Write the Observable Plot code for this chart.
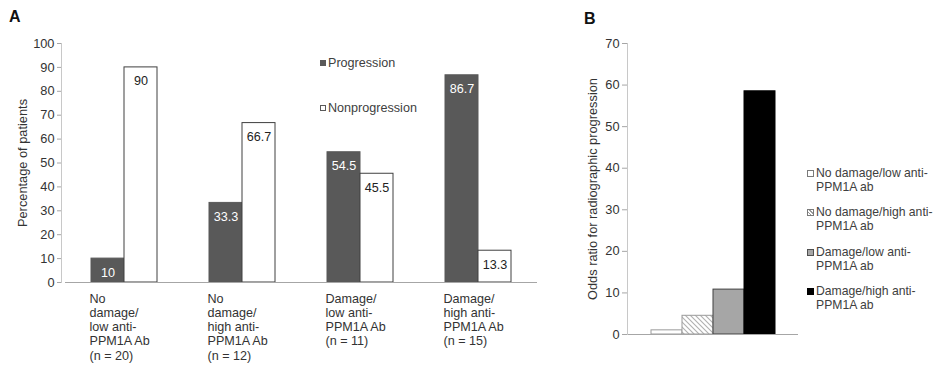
<!DOCTYPE html>
<html>
<head>
<meta charset="utf-8">
<script src="https://cdn.jsdelivr.net/npm/d3@7"></script>
<script src="https://cdn.jsdelivr.net/npm/@observablehq/plot@0.6"></script>
<style>
  html, body { margin: 0; padding: 0; background: #fff; }
  #wrap { position: relative; width: 936px; height: 368px; font-family: "Liberation Sans", Arial, sans-serif; color: #404040; overflow: hidden; }
  .panel { position: absolute; top: 0; }
  .letter { position: absolute; font-weight: bold; font-size: 16px; color: #111; }
  .leg { position: absolute; font-size: 12.6px; line-height: 14px; color: #404040; }
  .legB { font-size: 12.2px; }
  .sw { position: absolute; width: 6px; height: 6px; box-sizing: border-box; }
</style>
</head>
<body>
<div id="wrap"></div>
<script>
// ---- Data: panel A ----
const groups = ["g1", "g2", "g3", "g4"];
const groupLabels = [
  "No\ndamage/\nlow anti-\nPPM1A Ab\n(n = 20)",
  "No\ndamage/\nhigh anti-\nPPM1A Ab\n(n = 12)",
  "Damage/\nlow anti-\nPPM1A Ab\n(n = 11)",
  "Damage/\nhigh anti-\nPPM1A Ab\n(n = 15)"
];
const seriesNames = ["Progression", "Nonprogression"];
const progression = [10, 33.3, 54.5, 86.7];
const nonprogression = [90, 66.7, 45.5, 13.3];
const yTicksA = [0, 10, 20, 30, 40, 50, 60, 70, 80, 90, 100];

// ---- Data: panel B ----
const oddsCategories = [
  "No damage/low anti-\nPPM1A ab",
  "No damage/high anti-\nPPM1A ab",
  "Damage/low anti-\nPPM1A ab",
  "Damage/high anti-\nPPM1A ab"
];
const oddsRatios = [1, 4.5, 10.8, 58.5];
const yTicksB = [0, 10, 20, 30, 40, 50, 60, 70];

const FONT = "'Liberation Sans', Arial, sans-serif";
const FS = "12.6px";
const wrap = document.getElementById("wrap");

// ---------- Panel A ----------
const dataA = [];
groups.forEach((g, i) => {
  dataA.push({group: g, series: "Progression", value: progression[i]});
  dataA.push({group: g, series: "Nonprogression", value: nonprogression[i]});
});
const labelOf = Object.fromEntries(groups.map((g, i) => [g, groupLabels[i]]));

const plotA = Plot.plot({
  width: 580, height: 368,
  marginTop: 43, marginBottom: 86, marginLeft: 64, marginRight: 43,
  style: {fontFamily: FONT, fontSize: FS, color: "#404040", background: "transparent"},
  fx: {domain: groups, padding: 0, axis: null},
  x: {domain: seriesNames, paddingInner: 0, paddingOuter: 0.739, axis: null},
  y: {domain: [0, 100], axis: null},
  marks: [
    Plot.barY(dataA, {
      fx: "group", x: "series", y: "value",
      fill: d => d.series === "Progression" ? "#595959" : "#ffffff",
      stroke: d => d.series === "Progression" ? "#595959" : "#404040",
      strokeWidth: 1
    }),
    Plot.ruleY([0], {stroke: "#a6a6a6"}),
    Plot.text(dataA, {
      fx: "group", x: "series", y: "value",
      text: d => String(d.value), dy: 14,
      fill: d => d.series === "Progression" ? "#ffffff" : "#222222",
      fontSize: 12.6
    }),
    Plot.frame({anchor: "left", facetAnchor: "left", stroke: "#c8c8c8", dx: -4}),
    Plot.axisY({
      ticks: yTicksA, tickSize: 4, tickPadding: 3, dx: -4,
      stroke: "#a6a6a6", fill: "#333", fontSize: 12.8,
      label: "Percentage of patients", labelAnchor: "center", labelArrow: "none", labelOffset: 48
    }),
    Plot.axisFx({
      anchor: "bottom",
      tickFormat: g => labelOf[g], textAnchor: "start", dx: -35,
      tickSize: 0, tickPadding: 10, lineHeight: 1.13, fill: "#333", label: null
    })
  ]
});
plotA.classList.add("panel");
plotA.style.left = "0px";
wrap.appendChild(plotA);

// ---------- Panel B ----------
const dataB = oddsCategories.map((c, i) => ({cat: c, value: oddsRatios[i], idx: i}));
const fillsB = ["#ffffff", "url(#hatchB)", "#a6a6a6", "#000000"];
const strokesB = ["#9a9a9a", "#9a9a9a", "#404040", "#000000"];

const plotB = Plot.plot({
  width: 356, height: 368,
  marginTop: 43, marginBottom: 34, marginLeft: 47, marginRight: 138,
  style: {fontFamily: FONT, fontSize: FS, color: "#404040", background: "transparent"},
  x: {domain: oddsCategories, paddingInner: 0, paddingOuter: 0.736, axis: null},
  y: {domain: [0, 70], axis: null},
  marks: [
    Plot.barY(dataB, {x: "cat", y: "value", fill: d => fillsB[d.idx], stroke: d => strokesB[d.idx], strokeWidth: 1}),
    Plot.ruleY([0], {stroke: "#a6a6a6"}),
    Plot.frame({anchor: "left", stroke: "#c8c8c8"}),
    Plot.axisY({
      ticks: yTicksB, tickSize: 5, tickPadding: 3,
      stroke: "#a6a6a6", fill: "#333", fontSize: 12.8,
      label: "Odds ratio for radiographic progression", labelAnchor: "center", labelArrow: "none", labelOffset: 40
    })
  ]
});
plotB.classList.add("panel");
plotB.style.left = "580px";
// hatch pattern
const svgB = d3.select(plotB);
const defs = svgB.insert("defs", ":first-child");
const pat = defs.append("pattern").attr("id", "hatchB")
  .attr("patternUnits", "userSpaceOnUse").attr("width", 5).attr("height", 5);
pat.append("rect").attr("width", 5).attr("height", 5).attr("fill", "#fff");
pat.append("path").attr("d", "M-1,-1 L6,6 M-1,4 L1,6 M4,-1 L6,1")
  .attr("stroke", "#b0b0b0").attr("stroke-width", 1.1);
wrap.appendChild(plotB);

// ---------- Panel letters ----------
function addDiv(cls, text, left, top) {
  const d = document.createElement("div");
  d.className = cls; d.textContent = text;
  d.style.left = left + "px"; d.style.top = top + "px";
  wrap.appendChild(d); return d;
}
addDiv("letter", "A", 9, 8);
addDiv("letter", "B", 584, 10);

// ---------- Legend A ----------
const legA = [
  {name: seriesNames[0], fill: "#595959", stroke: "#595959", top: 56},
  {name: seriesNames[1], fill: "#ffffff", stroke: "#595959", top: 101}
];
legA.forEach(l => {
  const s = document.createElement("div");
  s.className = "sw"; s.style.left = "320px"; s.style.top = (l.top + 4) + "px";
  s.style.background = l.fill; s.style.border = "1px solid " + l.stroke;
  wrap.appendChild(s);
  addDiv("leg", l.name, 328, l.top);
});

// ---------- Legend B ----------
const swB = [
  {bg: "#ffffff", border: "#7a7a7a"},
  {bg: "repeating-linear-gradient(45deg, #fff 0 1.5px, #999 1.5px 2.5px)", border: "#7a7a7a"},
  {bg: "#a6a6a6", border: "#505050"},
  {bg: "#000000", border: "#000000"}
];
oddsCategories.forEach((c, i) => {
  const top = 166 + i * 39.3;
  const s = document.createElement("div");
  s.className = "sw";
  s.style.left = "807px"; s.style.top = (top + 4) + "px";
  s.style.width = "7px"; s.style.height = "7px";
  s.style.background = swB[i].bg; s.style.border = "1px solid " + swB[i].border;
  wrap.appendChild(s);
  const t = addDiv("leg legB", "", 816, top);
  t.style.whiteSpace = "pre";
  t.textContent = c;
});
</script>
</body>
</html>
